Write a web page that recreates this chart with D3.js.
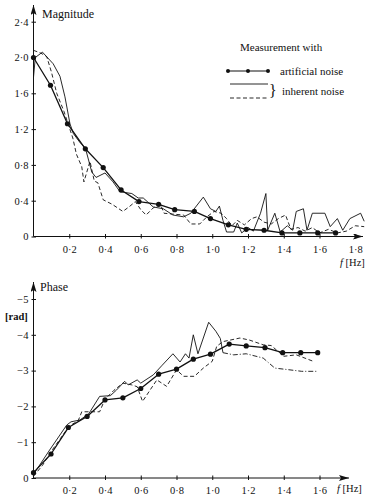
<!DOCTYPE html>
<html>
<head>
<meta charset="utf-8">
<script src="https://cdn.jsdelivr.net/npm/d3@7"></script>
<style>
  body { margin: 0; background: #fff; }
  svg, svg text { font-family: "Liberation Serif", "Times New Roman", Times, serif !important; }
</style>
</head>
<body>
<div id="chart"></div>
<script>
// ---- data ----
const magTicksX = [0.2, 0.4, 0.6, 0.8, 1.0, 1.2, 1.4, 1.6, 1.8];
const magTicksY = [0, 0.4, 0.8, 1.2, 1.6, 2.0, 2.4];
const phTicksX = [0.2, 0.4, 0.6, 0.8, 1.0, 1.2, 1.4, 1.6];
const phTicksY = [0, -1, -2, -3, -4, -5];

// magnitude, artificial noise (dots)
const magArtF = [0, 0.095, 0.19, 0.29, 0.39, 0.49, 0.59, 0.70, 0.79, 0.90, 0.99, 1.09, 1.19, 1.29, 1.39, 1.49, 1.59, 1.69];
const magArtV = [2.0, 1.69, 1.26, 0.98, 0.77, 0.52, 0.39, 0.36, 0.30, 0.28, 0.20, 0.13, 0.08, 0.07, 0.04, 0.04, 0.04, 0.04];

// magnitude, inherent noise (solid)
const magSolF = [0, 0.01, 0.05, 0.11, 0.148, 0.176, 0.204, 0.223, 0.26, 0.29, 0.326, 0.35, 0.40, 0.445, 0.484, 0.55, 0.586, 0.614, 0.67, 0.726, 0.78, 0.84, 0.88, 0.95, 0.99, 1.02, 1.04, 1.06, 1.08, 1.12, 1.14, 1.165, 1.20, 1.23, 1.27, 1.30, 1.31, 1.35, 1.38, 1.42, 1.45, 1.47, 1.51, 1.53, 1.56, 1.63, 1.66, 1.70, 1.73, 1.77, 1.83, 1.85];
const magSolV = [1.78, 2.0, 2.06, 1.93, 1.79, 1.56, 1.26, 1.15, 1.05, 0.99, 0.72, 0.66, 0.71, 0.61, 0.50, 0.48, 0.43, 0.43, 0.33, 0.31, 0.24, 0.22, 0.26, 0.44, 0.31, 0.28, 0.34, 0.18, 0.05, 0.05, 0.15, 0.04, 0.10, 0.06, 0.26, 0.48, 0.07, 0.26, 0.05, 0.12, 0.07, 0.28, 0.31, 0.07, 0.26, 0.26, 0.11, 0.20, 0.07, 0.20, 0.26, 0.17];

// magnitude, inherent noise (dashed)
const magDashF = [0, 0.04, 0.074, 0.10, 0.13, 0.17, 0.20, 0.22, 0.24, 0.27, 0.282, 0.316, 0.34, 0.36, 0.39, 0.44, 0.47, 0.50, 0.54, 0.57, 0.60, 0.63, 0.67, 0.71, 0.73, 0.78, 0.84, 0.88, 0.93, 0.97, 1.01, 1.05, 1.08, 1.11, 1.14, 1.18, 1.22, 1.25, 1.29, 1.33, 1.37, 1.41, 1.44, 1.48, 1.52, 1.56, 1.60, 1.65, 1.70, 1.75, 1.80, 1.85];
const magDashV = [2.08, 2.05, 2.01, 1.84, 1.60, 1.40, 1.22, 1.10, 0.92, 0.78, 0.61, 0.84, 0.62, 0.60, 0.41, 0.36, 0.32, 0.28, 0.34, 0.39, 0.30, 0.24, 0.32, 0.36, 0.26, 0.25, 0.24, 0.14, 0.14, 0.22, 0.28, 0.26, 0.20, 0.12, 0.18, 0.13, 0.20, 0.22, 0.16, 0.14, 0.20, 0.24, 0.08, 0.10, 0.06, 0.10, 0.04, 0.08, 0.04, 0.06, 0.12, 0.11];

// phase, artificial noise (dots)
const phArtF = [0, 0.098, 0.195, 0.30, 0.40, 0.50, 0.60, 0.70, 0.80, 0.894, 0.99, 1.095, 1.19, 1.295, 1.394, 1.495, 1.59];
const phArtV = [-0.15, -0.67, -1.41, -1.72, -2.18, -2.24, -2.50, -2.90, -3.04, -3.32, -3.46, -3.74, -3.69, -3.64, -3.50, -3.50, -3.50];

// phase, inherent noise (solid, continued dash-dot)
const phSolF = [0, 0.09, 0.186, 0.21, 0.26, 0.31, 0.37, 0.43, 0.465, 0.51, 0.53, 0.58, 0.60, 0.67, 0.72, 0.78, 0.82, 0.85, 0.87, 0.894, 0.92, 0.98, 1.02, 1.045, 1.06];
const phSolV = [-0.1, -0.78, -1.48, -1.57, -1.62, -1.8, -2.28, -2.3, -2.46, -2.7, -2.6, -2.74, -2.65, -2.88, -3.15, -3.47, -3.24, -3.47, -3.35, -4.0, -3.47, -4.35, -4.1, -3.9, -3.5];
const phDotDashF = [1.06, 1.12, 1.19, 1.285, 1.35, 1.435, 1.50, 1.585];
const phDotDashV = [-3.5, -3.44, -3.47, -3.35, -3.07, -3.02, -2.98, -2.98];

// phase, inherent noise (dashed)
const phDashF = [0, 0.05, 0.1, 0.15, 0.2, 0.25, 0.27, 0.32, 0.37, 0.40, 0.45, 0.50, 0.55, 0.58, 0.61, 0.69, 0.745, 0.80, 0.84, 0.90, 0.95, 1.0, 1.025, 1.06, 1.155, 1.21, 1.285, 1.33, 1.40, 1.47, 1.565];
const phDashV = [-0.05, -0.35, -0.75, -1.1, -1.45, -1.6, -1.85, -1.85, -1.85, -2.2, -2.45, -2.65, -2.6, -2.55, -2.14, -2.74, -2.56, -3.02, -2.84, -2.84, -3.07, -3.26, -3.68, -3.81, -3.91, -3.85, -3.72, -3.70, -3.40, -3.44, -3.26];

const W = 367, H = 497;
const ink = '#111';
const serif = '"Liberation Serif", "Times New Roman", Times, serif';
const fmt = v => v === 0 ? '0' : d3.format('.1f')(v).replace('.', '\u00b7');
const zip = (f, v) => f.map((d, i) => [d, v[i]]);

const svg = d3.select('#chart').append('svg')
  .attr('width', W).attr('height', H)
  .style('font-family', serif);

svg.append('defs').append('marker')
  .attr('id', 'arrow')
  .attr('viewBox', '0 0 10 6')
  .attr('refX', 10).attr('refY', 3)
  .attr('markerWidth', 10).attr('markerHeight', 6)
  .attr('markerUnits', 'userSpaceOnUse')
  .attr('orient', 'auto')
  .append('path').attr('d', 'M0,0 L10,3 L0,6 L2,3 Z').attr('fill', ink);

const x = d3.scaleLinear().domain([0, 1.8]).range([33.5, 355.25]);
const yMag = d3.scaleLinear().domain([0, 2.4]).range([236.5, 21.7]);
const yPh = d3.scaleLinear().domain([0, -5]).range([478, 299]);

function label(px, py, size, txt) {
  return svg.append('text').attr('x', px).attr('y', py)
    .style('font-family', serif).style('font-size', size + 'px')
    .attr('fill', ink).text(txt);
}

function drawAxes(y, ticksX, ticksY, xEnd, yTop, yFmt) {
  const y0 = y(0), x0 = x(0);
  const gx = svg.append('g').attr('transform', `translate(0,${y0})`)
    .call(d3.axisBottom(x).tickValues(ticksX).tickSize(0).tickFormat(fmt));
  gx.attr('font-family', null);
  gx.select('.domain').remove();
  gx.selectAll('.tick line').attr('y1', -2.5).attr('y2', 2).attr('stroke', ink);
  gx.selectAll('.tick text').attr('y', 9).attr('fill', ink)
    .style('font-family', serif).style('font-size', '10.5px');

  const gy = svg.append('g').attr('transform', `translate(${x0},0)`)
    .call(d3.axisLeft(y).tickValues(ticksY).tickSize(0).tickFormat(yFmt));
  gy.attr('font-family', null);
  gy.select('.domain').remove();
  gy.selectAll('.tick line').attr('x1', -2).attr('x2', 2.5).attr('stroke', ink);
  gy.selectAll('.tick text').attr('x', -5).attr('fill', ink)
    .style('font-family', serif).style('font-size', '10.5px');

  svg.append('line').attr('x1', x0).attr('y1', y0).attr('x2', xEnd).attr('y2', y0)
    .attr('stroke', ink).attr('stroke-width', 1).attr('marker-end', 'url(#arrow)');
  svg.append('line').attr('x1', x0).attr('y1', y0).attr('x2', x0).attr('y2', yTop)
    .attr('stroke', ink).attr('stroke-width', 1).attr('marker-end', 'url(#arrow)');
}

function series(y, pts, dash, w) {
  svg.append('path').datum(pts)
    .attr('d', d3.line().x(d => x(d[0])).y(d => y(d[1])))
    .attr('fill', 'none').attr('stroke', ink)
    .attr('stroke-width', w || 0.9)
    .attr('stroke-linejoin', 'round')
    .attr('stroke-dasharray', dash || null);
}

function dots(y, pts) {
  series(y, pts, null, 1.3);
  svg.append('g').selectAll('circle').data(pts).join('circle')
    .attr('cx', d => x(d[0])).attr('cy', d => y(d[1])).attr('r', 2.6)
    .attr('fill', ink);
}

// ---- magnitude ----
drawAxes(yMag, magTicksX, magTicksY, 363, 5, fmt);
label(42, 18, 12, 'Magnitude');
label(340, 266, 10.5, '').html('<tspan font-style="italic">f</tspan> [Hz]');

series(yMag, zip(magDashF, magDashV), '4,2.5');
series(yMag, zip(magSolF, magSolV));
dots(yMag, zip(magArtF, magArtV));

// legend
label(240, 51, 11, 'Measurement  with');
const lgPts = [[228, 71], [248, 71], [268, 71]];
svg.append('path').attr('d', d3.line()(lgPts)).attr('stroke', ink).attr('stroke-width', 1.2).attr('fill', 'none');
svg.append('g').selectAll('circle').data(lgPts).join('circle')
  .attr('cx', d => d[0]).attr('cy', d => d[1]).attr('r', 2).attr('fill', ink);
label(280, 75, 11, 'artificial noise');
svg.append('line').attr('x1', 230).attr('x2', 268).attr('y1', 84).attr('y2', 84)
  .attr('stroke', ink).attr('stroke-width', 0.9);
svg.append('line').attr('x1', 230).attr('x2', 268).attr('y1', 98).attr('y2', 98)
  .attr('stroke', ink).attr('stroke-width', 0.9).attr('stroke-dasharray', '4,2.5');
label(269, 96, 16, '}');
label(282, 95, 11, 'inherent noise');

// ---- phase ----
drawAxes(yPh, phTicksX, phTicksY, 349, 282,
  v => v === 0 ? '0' : '\u2212' + Math.abs(v));
label(40, 291, 12, 'Phase');
label(5, 320, 10.5, '[rad]').style('font-weight', 'bold');
label(337, 492, 10.5, '').html('<tspan font-style="italic">f</tspan> [Hz]');

series(yPh, zip(phDashF, phDashV), '4,2.5');
series(yPh, zip(phSolF, phSolV));
series(yPh, zip(phDotDashF, phDotDashV), '5,2,1,2');
dots(yPh, zip(phArtF, phArtV));
</script>
</body>
</html>
